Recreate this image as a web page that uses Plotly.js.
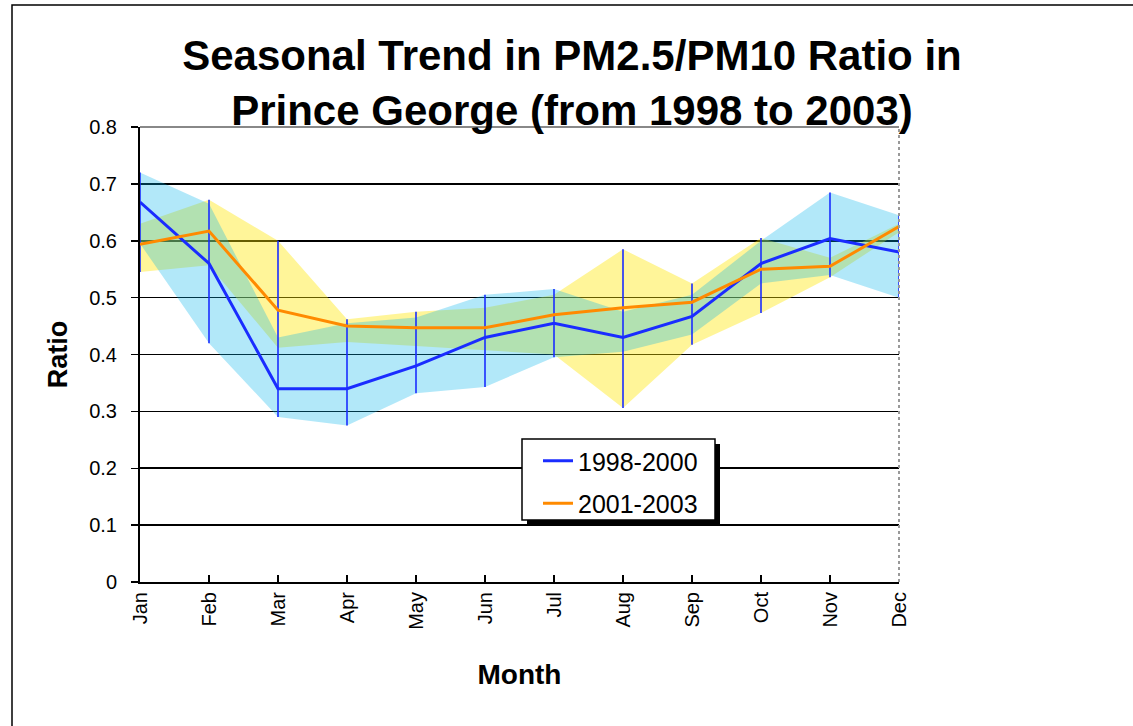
<!DOCTYPE html>
<html>
<head>
<meta charset="utf-8">
<script src="https://cdn.plot.ly/plotly-3.0.1.min.js"></script>
<style>html,body{margin:0;padding:0;background:#fff;}#chart{width:1133px;height:726px;}</style>
</head>
<body>
<div id="chart"></div>
<script>
// ---- data ----
const months = ['Jan','Feb','Mar','Apr','May','Jun','Jul','Aug','Sep','Oct','Nov','Dec'];
const seriesNames = ['1998-2000','2001-2003'];
const ratio9800 = [0.668,0.560,0.340,0.340,0.380,0.430,0.455,0.430,0.467,0.560,0.604,0.580];
const ratio0103 = [0.594,0.617,0.478,0.450,0.447,0.447,0.470,0.482,0.492,0.550,0.555,0.625];
const band9800Upper = [0.720,0.665,0.430,0.455,0.465,0.505,0.515,0.475,0.505,0.600,0.685,0.645];
const band9800Lower = [0.595,0.420,0.290,0.275,0.332,0.343,0.395,0.405,0.435,0.525,0.540,0.500];
const band0103Upper = [0.630,0.672,0.600,0.462,0.475,0.482,0.505,0.585,0.525,0.605,0.570,0.630];
const band0103Lower = [0.545,0.557,0.412,0.422,0.415,0.408,0.400,0.306,0.417,0.473,0.536,0.615];
const yTicks = [0,0.1,0.2,0.3,0.4,0.5,0.6,0.7,0.8];
const yTickText = ['0','0.1','0.2','0.3','0.4','0.5','0.6','0.7','0.8'];

const xIdx = months.map((m,i)=>i);

// high-low lines across all series per month
const hlX = [], hlY = [];
months.forEach((m,i)=>{
  const vals = [ratio9800[i],ratio0103[i],band9800Upper[i],band9800Lower[i],band0103Upper[i],band0103Lower[i]];
  hlX.push(i,i,null);
  hlY.push(Math.min(...vals),Math.max(...vals),null);
});

const FONT = 'Arial, "Liberation Sans", Helvetica, sans-serif';
const BLUE = '#1a2cff';
const ORANGE = '#ff8a00';

const traces = [
  {x:xIdx,y:band0103Lower,mode:'lines',line:{width:0,color:'rgba(0,0,0,0)'},showlegend:false,hoverinfo:'skip'},
  {x:xIdx,y:band0103Upper,mode:'lines',line:{width:0,color:'rgba(0,0,0,0)'},fill:'tonexty',fillcolor:'rgba(255,230,0,0.40)',showlegend:false,hoverinfo:'skip'},
  {x:xIdx,y:band9800Lower,mode:'lines',line:{width:0,color:'rgba(0,0,0,0)'},showlegend:false,hoverinfo:'skip'},
  {x:xIdx,y:band9800Upper,mode:'lines',line:{width:0,color:'rgba(0,0,0,0)'},fill:'tonexty',fillcolor:'rgba(0,180,235,0.30)',showlegend:false,hoverinfo:'skip'},
  {x:hlX,y:hlY,mode:'lines',line:{width:1.6,color:BLUE},showlegend:false,hoverinfo:'skip',connectgaps:false},
  {x:xIdx,y:ratio9800,mode:'lines',name:seriesNames[0],line:{width:3,color:BLUE},legendgroup:'a'},
  {x:xIdx,y:ratio0103,mode:'lines',name:seriesNames[1],line:{width:3,color:ORANGE},legendgroup:'b'}
];

const L=140,R=899,T=127,B=582;
const px = v => (v-L)/(R-L);
const py = v => (B-v)/(B-T);

const layout = {
  width:1133,height:726,
  paper_bgcolor:'#ffffff',plot_bgcolor:'#ffffff',
  margin:{l:L,r:1133-R,t:T,b:726-B,pad:0},
  font:{family:FONT,color:'#000'},
  title:{text:'<b>Seasonal Trend in PM2.5/PM10 Ratio in<br>Prince George (from 1998 to 2003)</b>',
    font:{family:FONT,size:42,color:'#000'},x:572/1133,xanchor:'center',xref:'container',
    y:1-70/726,yanchor:'top',yref:'container'},
  xaxis:{range:[0,11],tickmode:'array',tickvals:xIdx,ticktext:months,tickangle:-90,
    tickfont:{family:FONT,size:20},ticks:'inside',ticklen:7,tickcolor:'#000',tickwidth:1.5,
    showgrid:false,zeroline:false,showline:true,linecolor:'#000',linewidth:2,
    title:{text:'<b>Month</b>',font:{family:FONT,size:28},standoff:36},fixedrange:true},
  yaxis:{range:[0,0.8],tickmode:'array',tickvals:yTicks,ticktext:yTickText,
    tickfont:{family:FONT,size:20},ticks:'outside',ticklen:7,tickcolor:'#000',tickwidth:1.5,
    ticklabelstandoff:10,
    showgrid:true,gridcolor:'#000',gridwidth:1.6,zeroline:false,showline:true,linecolor:'#000',linewidth:2,
    title:{text:'<b>Ratio</b>',font:{family:FONT,size:27},standoff:14},fixedrange:true},
  legend:{x:px(538),y:py(438),xanchor:'left',yanchor:'top',bgcolor:'rgba(0,0,0,0)',borderwidth:0,
    font:{family:FONT,size:25,color:'#000'},tracegroupgap:7,traceorder:'grouped'},
  showlegend:true,
  shapes:[
    {type:'line',xref:'paper',yref:'paper',x0:0,x1:1,y0:1,y1:1,line:{color:'#888',width:2},layer:'above'},
    {type:'line',xref:'paper',yref:'paper',x0:1,x1:1,y0:0,y1:1,line:{color:'#999',width:2,dash:'dot'},layer:'above'},
    {type:'rect',xref:'paper',yref:'paper',x0:px(527),x1:px(720),y0:py(444),y1:py(525),fillcolor:'#000',line:{width:0},layer:'above'},
    {type:'rect',xref:'paper',yref:'paper',x0:px(522),x1:px(715),y0:py(439),y1:py(520),fillcolor:'#fff',line:{color:'#000',width:1.5},layer:'above'},
    {type:'rect',xref:'paper',yref:'paper',x0:px(12),x1:px(1140),y0:py(5),y1:py(740),fillcolor:'rgba(0,0,0,0)',line:{color:'#000',width:1.5},layer:'below'}
  ]
};

Plotly.newPlot('chart',traces,layout,{displayModeBar:false,staticPlot:true});
</script>
</body>
</html>
